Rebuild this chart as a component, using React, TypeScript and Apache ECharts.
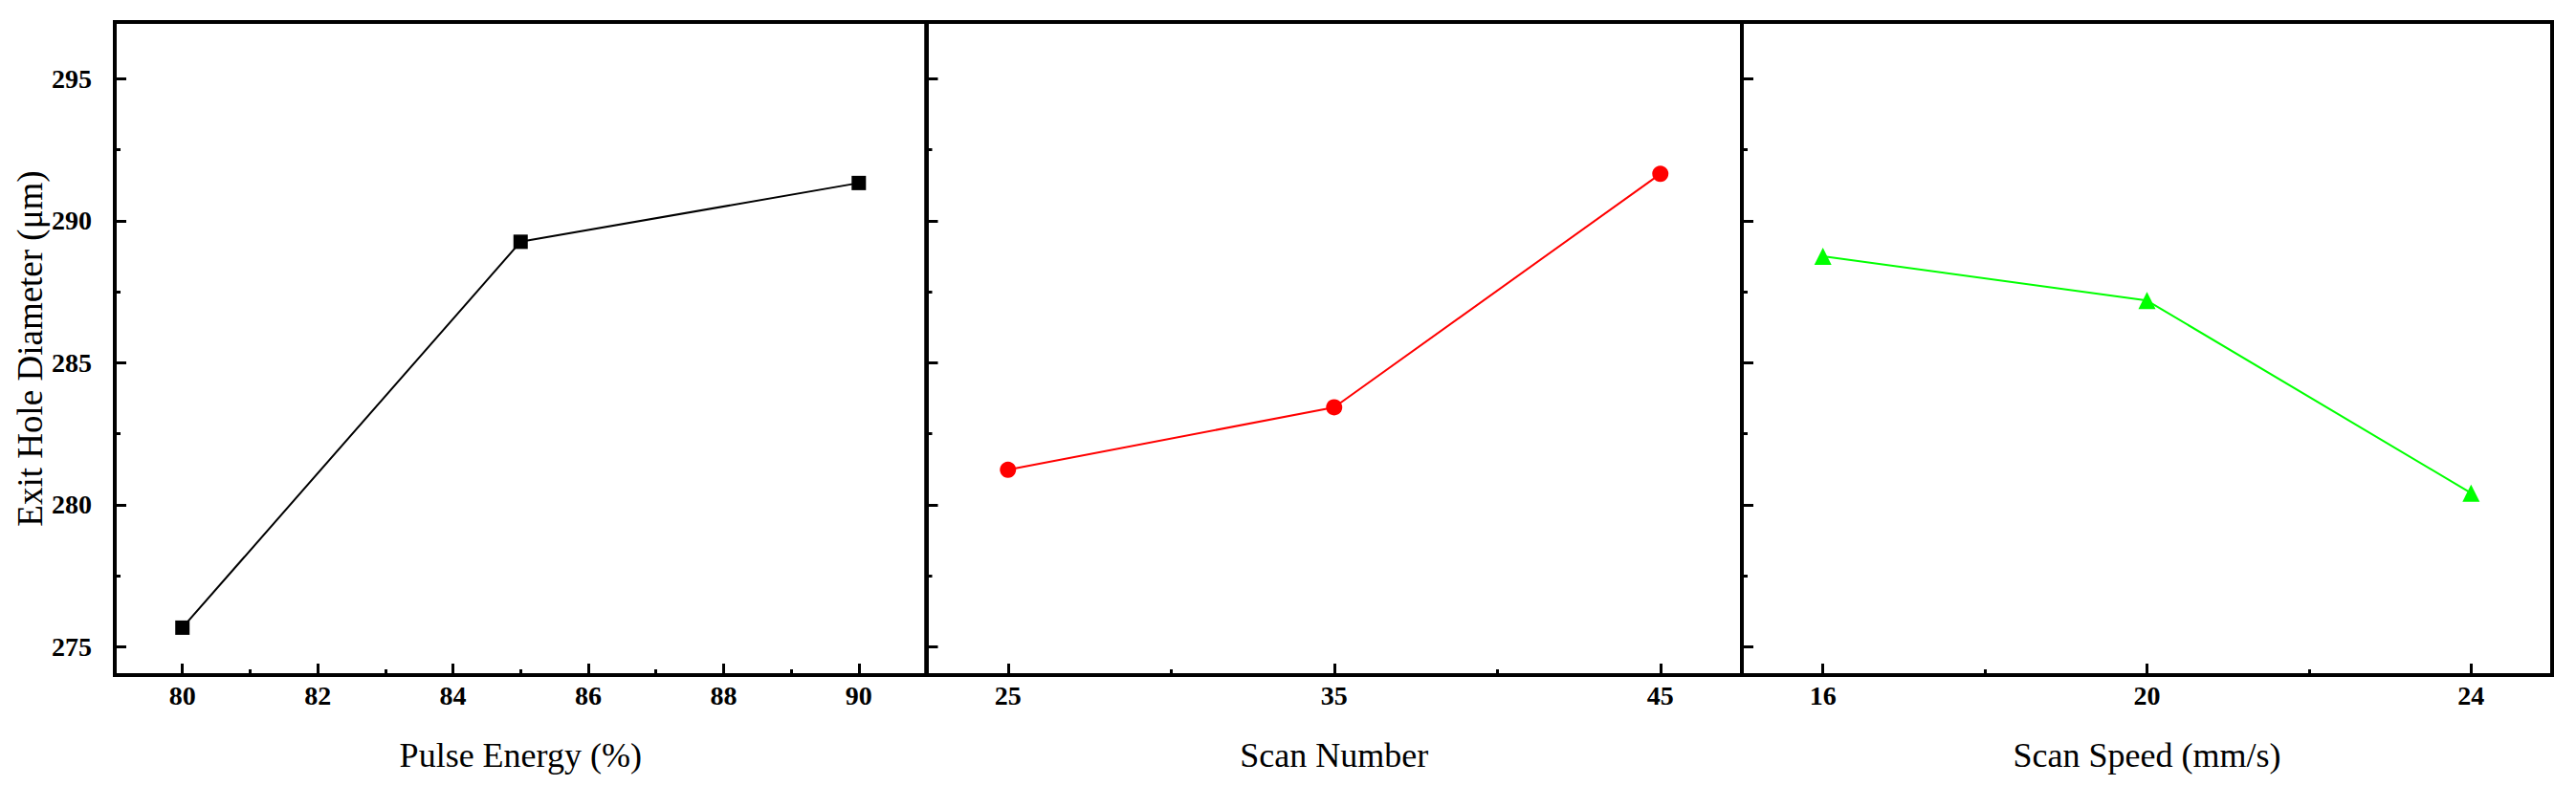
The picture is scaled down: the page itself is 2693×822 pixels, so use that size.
import React, { useEffect, useRef } from "react";
import * as echarts from "echarts";

const pulseEnergy = [80, 85, 90];
const pulseDiam = [275.67, 289.26, 291.33];
const scanNumber = [25, 35, 45];
const scanNumDiam = [281.23, 283.43, 291.65];
const scanSpeed = [16, 20, 24];
const scanSpeedDiam = [288.75, 287.19, 280.41];

const yMajor = [275, 280, 285, 290, 295];
const yMinor = [277.5, 282.5, 287.5, 292.5];
const x0Major = [80, 82, 84, 86, 88, 90];
const x0Minor = [79, 81, 83, 85, 87, 89, 91];
const x1Major = [25, 35, 45];
const x1Minor = [30, 40];
const x2Major = [16, 20, 24];
const x2Minor = [18, 22];

const xTitles = ["Pulse Energy (%)", "Scan Number", "Scan Speed (mm/s)"];
const yTitle = "Exit Hole Diameter (μm)";

const FONT = "'Liberation Serif', 'Times New Roman', serif";

export default function App() {
  const ref = useRef<HTMLDivElement>(null);
  useEffect(() => {
    document.body.style.margin = "0";
    const chart = echarts.init(ref.current!, null, { renderer: "svg" });
    const grids = [
      { left: 120, width: 848.5 },
      { left: 968.5, width: 852.5 },
      { left: 1821, width: 847 },
    ].map((g) => ({
      ...g,
      top: 23,
      bottom: 116,
      show: true,
      borderColor: "#000",
      borderWidth: 4,
      backgroundColor: "transparent",
      containLabel: false,
    }));
    const ranges = [
      [79, 91],
      [22.5, 47.5],
      [15, 25],
    ];
    const majors = [x0Major, x1Major, x2Major];
    const minors = [x0Minor, x1Minor, x2Minor];
    const xAxes: any[] = [];
    const yAxes: any[] = [];
    for (let i = 0; i < 3; i++) {
      xAxes.push({
        type: "value",
        gridIndex: i,
        min: ranges[i][0],
        max: ranges[i][1],
        splitLine: { show: false },
        axisLine: { show: true, lineStyle: { color: "#000", width: 4 } },
        axisTick: {
          show: true,
          inside: true,
          length: 12,
          customValues: majors[i],
          lineStyle: { color: "#000", width: 3 },
        },
        axisLabel: {
          show: true,
          customValues: majors[i],
          color: "#000",
          fontFamily: FONT,
          fontWeight: "bold",
          fontSize: 28,
          margin: 7,
        },
        name: xTitles[i],
        nameLocation: "middle",
        nameGap: 66,
        nameTextStyle: { color: "#000", fontFamily: FONT, fontSize: 36 },
      });
      xAxes.push({
        type: "value",
        gridIndex: i,
        position: "bottom",
        min: ranges[i][0],
        max: ranges[i][1],
        splitLine: { show: false },
        axisLine: { show: false },
        axisTick: {
          show: true,
          inside: true,
          length: 6,
          customValues: minors[i],
          lineStyle: { color: "#000", width: 3 },
        },
        axisLabel: { show: false },
      });
      yAxes.push({
        type: "value",
        gridIndex: i,
        min: 274,
        max: 297,
        splitLine: { show: false },
        axisLine: { show: true, lineStyle: { color: "#000", width: 4 } },
        axisTick: {
          show: true,
          inside: true,
          length: 12,
          customValues: yMajor,
          lineStyle: { color: "#000", width: 3 },
        },
        axisLabel: {
          show: i === 0,
          customValues: yMajor,
          color: "#000",
          fontFamily: FONT,
          fontWeight: "bold",
          fontSize: 28,
          margin: 24,
        },
        name: i === 0 ? yTitle : "",
        nameLocation: "middle",
        nameGap: 66,
        nameTextStyle: { color: "#000", fontFamily: FONT, fontSize: 37 },
      });
      yAxes.push({
        type: "value",
        gridIndex: i,
        position: "left",
        min: 274,
        max: 297,
        splitLine: { show: false },
        axisLine: { show: false },
        axisTick: {
          show: true,
          inside: true,
          length: 6,
          customValues: yMinor,
          lineStyle: { color: "#000", width: 3 },
        },
        axisLabel: { show: false },
      });
    }
    const mk = (xs: number[], ys: number[]) => xs.map((x, k) => [x, ys[k]]);
    chart.setOption({
      animation: false,
      backgroundColor: "#fff",
      grid: grids,
      xAxis: xAxes,
      yAxis: yAxes,
      series: [
        {
          type: "line",
          xAxisIndex: 0,
          yAxisIndex: 0,
          data: mk(pulseEnergy, pulseDiam),
          symbol: "rect",
          symbolSize: 15,
          itemStyle: { color: "#000" },
          lineStyle: { color: "#000", width: 2 },
        },
        {
          type: "line",
          xAxisIndex: 2,
          yAxisIndex: 2,
          data: mk(scanNumber, scanNumDiam),
          symbol: "circle",
          symbolSize: 17,
          itemStyle: { color: "#ff0000" },
          lineStyle: { color: "#ff0000", width: 2 },
        },
        {
          type: "line",
          xAxisIndex: 4,
          yAxisIndex: 4,
          data: mk(scanSpeed, scanSpeedDiam),
          symbol: "triangle",
          symbolSize: 18,
          itemStyle: { color: "#00ff00" },
          lineStyle: { color: "#00ff00", width: 2 },
        },
      ],
    });
    return () => chart.dispose();
  }, []);
  return <div ref={ref} style={{ width: 2693, height: 822 }} />;
}
